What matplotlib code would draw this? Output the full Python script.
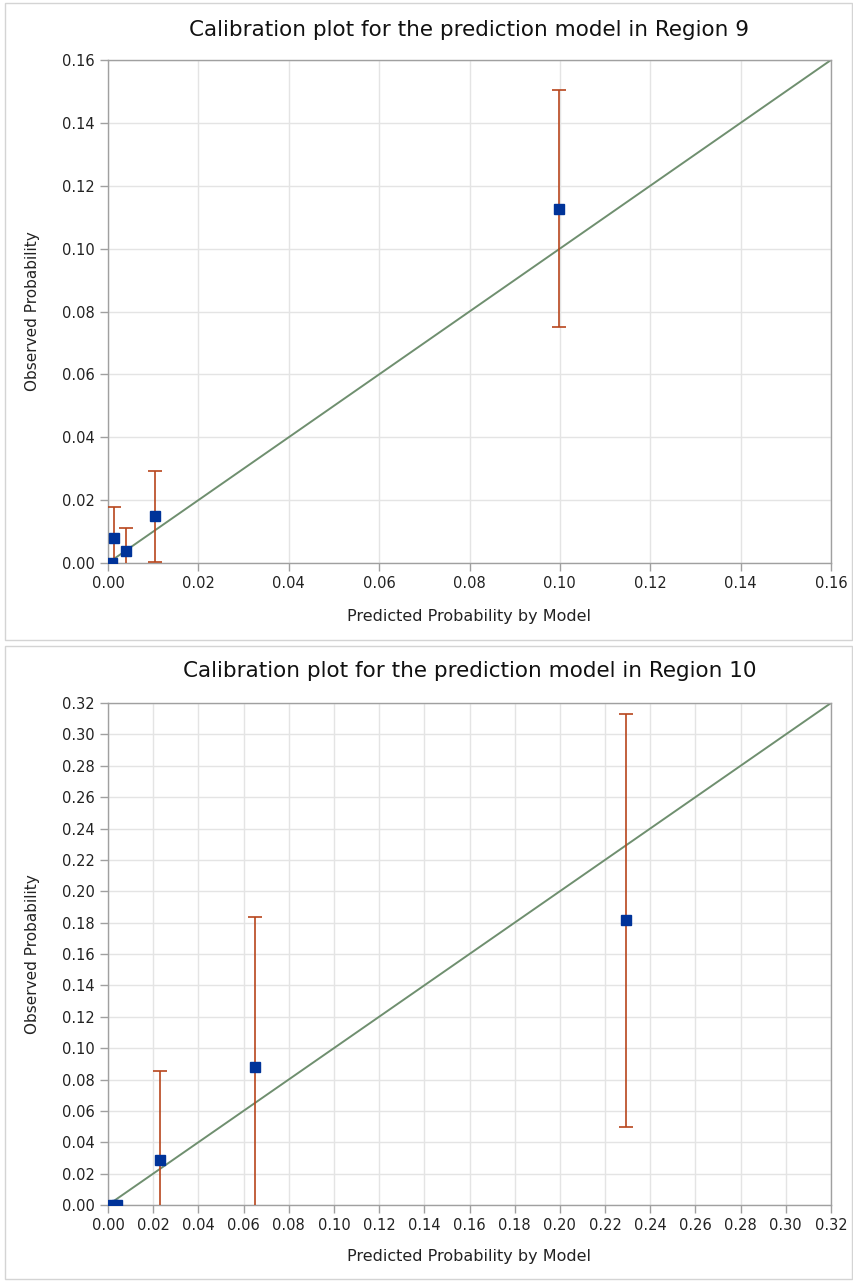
import matplotlib
matplotlib.use("Agg")
import matplotlib.pyplot as plt
from matplotlib.patches import Rectangle
import numpy as np

plt.rcParams['font.family'] = ['DejaVu Sans']

# Region 9 data
pred9 = [0.0008, 0.0013, 0.0040, 0.0105, 0.0998]
obs9 = [0.0, 0.0078, 0.0039, 0.0149, 0.1127]
lower9 = [0.0, 0.0, 0.0, 0.0004, 0.0750]
upper9 = [0.0, 0.0179, 0.0112, 0.0293, 0.1504]
ticks9 = [0.00, 0.02, 0.04, 0.06, 0.08, 0.10, 0.12, 0.14, 0.16]
title9 = "Calibration plot for the prediction model in Region 9"

# Region 10 data
pred10 = [0.0020, 0.0038, 0.0228, 0.0650, 0.2291]
obs10 = [0.0, 0.0, 0.0285, 0.0881, 0.1815]
lower10 = [0.0, 0.0, 0.0, 0.0, 0.0497]
upper10 = [0.0, 0.0, 0.0855, 0.1834, 0.3127]
ticks10 = [0.00, 0.02, 0.04, 0.06, 0.08, 0.10, 0.12, 0.14, 0.16,
           0.18, 0.20, 0.22, 0.24, 0.26, 0.28, 0.30, 0.32]
title10 = "Calibration plot for the prediction model in Region 10"

xlabel = "Predicted Probability by Model"
ylabel = "Observed Probability"

W, H = 854, 1281
fig = plt.figure(figsize=(W / 100, H / 100), dpi=100)

MARK = "#003399"
ERR = "#b8461c"
DIAG = "#6f8f6f"
GRID = "#e4e4e4"
SPINE = "#a0a0a0"


def fx(px):
    return px / W


def fy(py):
    return 1 - py / H


# panel frames
for (y0, y1) in [(3, 640), (646, 1279)]:
    fig.patches.append(Rectangle((fx(5), fy(y1)), fx(847), (y1 - y0) / H,
                                 transform=fig.transFigure, fill=False,
                                 edgecolor="#d4d4d4", linewidth=1.0))


def panel(top_px, bot_px, pred, obs, lo, hi, ticks, title, title_y, xlab_y):
    left_px, right_px = 108, 831
    ax = fig.add_axes([fx(left_px), fy(bot_px), (right_px - left_px) / W,
                       (bot_px - top_px) / H])
    lim = ticks[-1]
    ax.set_xlim(0, lim)
    ax.set_ylim(0, lim)
    ax.set_xticks(ticks)
    ax.set_yticks(ticks)
    ax.set_xticklabels([f"{t:.2f}" for t in ticks])
    ax.set_yticklabels([f"{t:.2f}" for t in ticks])
    ax.grid(True, color=GRID, linewidth=1.0)
    ax.set_axisbelow(True)
    for s in ax.spines.values():
        s.set_color(SPINE)
        s.set_linewidth(1.0)
    ax.tick_params(axis='both', colors=SPINE, labelcolor="#222222",
                   labelsize=10.5, length=6, width=1.0, direction='out')
    ax.plot([0, lim], [0, lim], color=DIAG, linewidth=1.4, zorder=2)
    obs_a = np.array(obs)
    lo_a = np.array(lo)
    hi_a = np.array(hi)
    yerr = [obs_a - lo_a, hi_a - obs_a]
    _, caps, _ = ax.errorbar(pred, obs, yerr=yerr, fmt='none', ecolor=ERR,
                             elinewidth=1.2, capsize=5, capthick=1.2,
                             zorder=3)
    # caps only where the interval does not end at zero
    caps[0].set_markevery([i for i in range(len(lo)) if lo[i] > 0])
    caps[1].set_markevery([i for i in range(len(hi)) if hi[i] > 0])
    ax.plot(pred, obs, linestyle='none', marker='s', markersize=6.5,
            color=MARK, markeredgecolor=MARK, zorder=4)
    fig.text(fx((left_px + right_px) / 2), fy(title_y), title,
             ha='center', va='center', fontsize=15.5, color="#111111")
    fig.text(fx((left_px + right_px) / 2), fy(xlab_y), xlabel,
             ha='center', va='center', fontsize=11.5, color="#222222")
    fig.text(fx(33), fy((top_px + bot_px) / 2), ylabel, rotation=90,
             ha='center', va='center', fontsize=11, color="#222222")
    return ax


panel(60, 563, pred9, obs9, lower9, upper9, ticks9, title9, 30, 617)
panel(703, 1205, pred10, obs10, lower10, upper10, ticks10, title10, 671, 1257)

fig.savefig("out.png", dpi=100)
